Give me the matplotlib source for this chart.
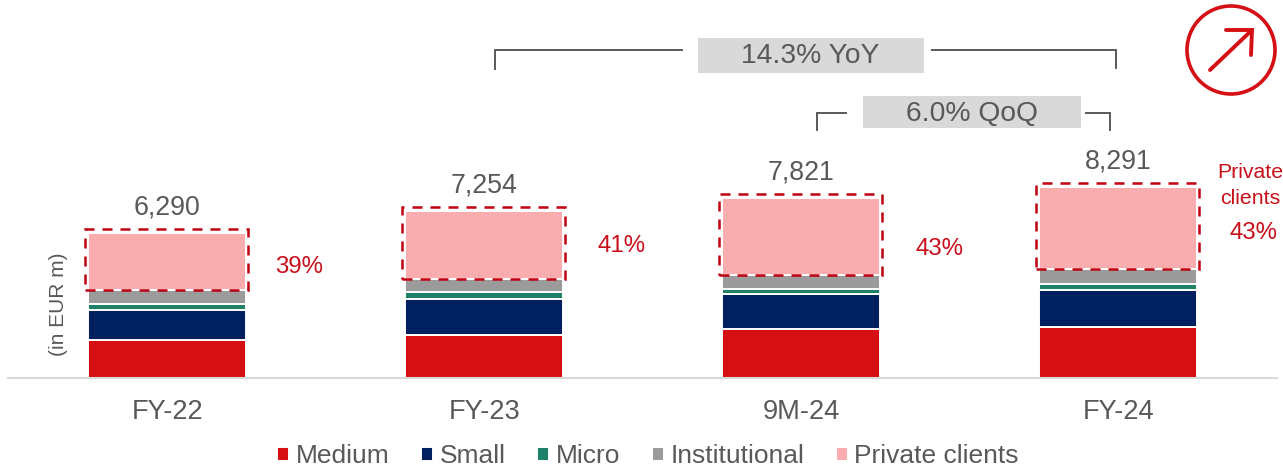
import matplotlib
matplotlib.use('Agg')
import matplotlib.pyplot as plt
from matplotlib.patches import Rectangle, Circle

plt.rcParams['font.family'] = ['Liberation Sans', 'DejaVu Sans']

# values in EUR m
periods = ['FY-22', 'FY-23', '9M-24', 'FY-24']
totals = [6290, 7254, 7821, 8291]
medium = [1627, 1887, 2138, 2212]
small = [1323, 1540, 1518, 1627]
micro = [239, 304, 195, 239]
institutional = [648, 549, 607, 634]
private_clients = [2453, 2974, 3363, 3579]
private_share = ['39%', '41%', '43%', '43%']

series_names = ['Medium', 'Small', 'Micro', 'Institutional', 'Private clients']
series_values = [medium, small, micro, institutional, private_clients]
series_colors = ['#D50F14', '#00205F', '#1F8268', '#9B9B9B', '#FAADAF']

GREY = '#595959'
RED = '#C8101A'
W, H = 1283, 467
BASE = 378
FIRST_BAR = 167.2
PX_PER_BAR = 317
UNITS_PER_PX = 43.38

fig = plt.figure(figsize=(W / 100, H / 100), dpi=100)
ax = fig.add_axes([8 / W, (H - BASE) / H, (1277 - 8) / W, BASE / H])
ax.set_xlim((8 - FIRST_BAR) / PX_PER_BAR, (1277 - FIRST_BAR) / PX_PER_BAR)
ax.set_ylim(0, BASE * UNITS_PER_PX)
ax.patch.set_alpha(0)

x = list(range(len(periods)))
bar_w = 158.5 / PX_PER_BAR
bottom = [0] * len(periods)
for name, vals, col in zip(series_names, series_values, series_colors):
    ax.bar(x, vals, bar_w, bottom=bottom, color=col, edgecolor='white', linewidth=1.4, label=name)
    bottom = [b + v for b, v in zip(bottom, vals)]

# dashed box round the private clients part
pri_bottom = [t - p for t, p in zip(bottom, private_clients)]
for i in x:
    ax.add_patch(Rectangle((i - bar_w / 2 - 3 / PX_PER_BAR, pri_bottom[i]),
                           bar_w + 4.5 / PX_PER_BAR,
                           private_clients[i] + 4 * UNITS_PER_PX,
                           fill=False, edgecolor='#C00010', linewidth=1.8,
                           linestyle=(0, (4, 3.2)), zorder=5))
    ax.annotate(f'{totals[i]:,}', (i, bottom[i]), xytext=(0, 25.5 * 0.72), textcoords='offset points',
                ha='center', va='center', fontsize=19.3, color=GREY)

for s in ['top', 'left', 'right']:
    ax.spines[s].set_visible(False)
ax.spines['bottom'].set_color('#D9D9D9')
ax.spines['bottom'].set_linewidth(1.5)
ax.set_yticks([])
ax.set_xticks(x)
ax.set_xticklabels(periods, fontsize=19.6, color=GREY)
ax.tick_params(axis='x', length=0, pad=14.8)

fig.legend(*ax.get_legend_handles_labels(), loc='center', bbox_to_anchor=(648 / W, (H - 456) / H),
           ncol=5, frameon=False, fontsize=19, labelcolor=GREY, handlelength=0.45, handleheight=0.45,
           handletextpad=0.25, columnspacing=1.2, borderpad=0, borderaxespad=0)

# everything else is placed in pixels of the picture
top = fig.add_axes([0, 0, 1, 1])
top.set_xlim(0, W)
top.set_ylim(H, 0)
top.axis('off')
top.patch.set_alpha(0)

top.text(58, 304.5, '(in EUR m)', rotation=90, ha='center', va='center', fontsize=15, color=GREY)

share_pos = [(299, 267), (622, 246), (939, 249), (1253, 233)]
for (px, py), s in zip(share_pos, private_share):
    top.text(px, py, s, ha='center', va='center', fontsize=17.3, color=RED)
top.text(1250, 172, 'Private', ha='center', va='center', fontsize=15.3, color=RED)
top.text(1250, 199, 'clients', ha='center', va='center', fontsize=15.3, color=RED)

# growth brackets
line_col = '#595959'
top.plot([495, 495, 682], [69, 50, 50], color=line_col, lw=1.4, solid_joinstyle='miter')
top.plot([932, 1116, 1116], [50, 50, 68], color=line_col, lw=1.4, solid_joinstyle='miter')
top.plot([817, 817, 846], [130, 113, 113], color=line_col, lw=1.4, solid_joinstyle='miter')
top.plot([1086, 1110, 1110], [113, 113, 130], color=line_col, lw=1.4, solid_joinstyle='miter')
top.add_patch(Rectangle((698, 38), 226, 35, facecolor='#D9D9D9', edgecolor='none'))
top.add_patch(Rectangle((863, 96), 218, 32, facecolor='#D9D9D9', edgecolor='none'))
top.text(810.5, 56, '14.3% YoY', ha='center', va='center', fontsize=20.3, color=GREY)
top.text(971.5, 113.5, '6.0% QoQ', ha='center', va='center', fontsize=20.3, color=GREY)

# arrow icon
icon_red = '#D50F14'
top.add_patch(Circle((1231, 50), 44, fill=False, edgecolor=icon_red, linewidth=2.6))
top.plot([1210, 1252], [70, 30], color=icon_red, lw=2.8, solid_capstyle='round')
top.plot([1226, 1252, 1251], [30, 30, 55], color=icon_red, lw=2.8, solid_capstyle='round', solid_joinstyle='miter')

fig.savefig('out.png', dpi=100)
